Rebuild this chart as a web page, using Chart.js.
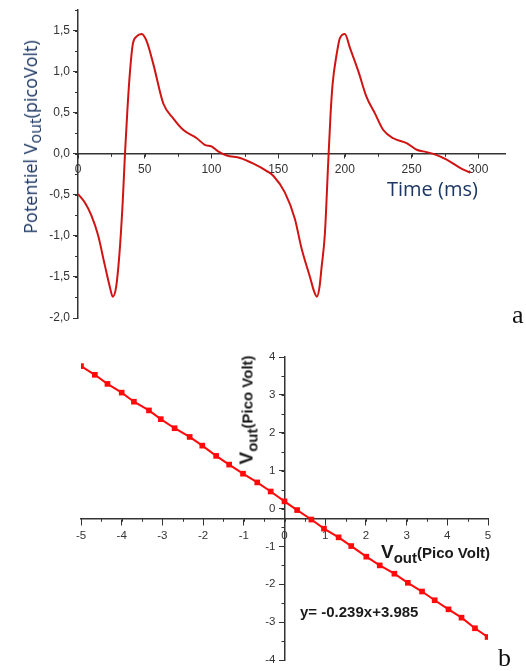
<!DOCTYPE html>
<html>
<head>
<meta charset="utf-8">
<script src="https://cdn.jsdelivr.net/npm/chart.js@4"></script>
<style>
body{margin:0;background:#fff;}
#wrap{position:relative;width:526px;height:671px;background:#fff;overflow:hidden;}
canvas{position:absolute;left:0;}
.lbl{position:absolute;white-space:nowrap;line-height:1;}
.ta{font-family:"Open Sans",Lato,sans-serif;color:#1c3763;}
.tb{font-family:"Liberation Sans",Arial,sans-serif;font-weight:bold;color:#1a1a1a;}
.tb .v{font-size:19px;}
.tb sub{font-size:15px;vertical-align:-5px;}
.tb .p{font-size:15px;}
.ser{font-family:"Liberation Serif","Times New Roman",serif;font-size:26px;color:#111;}
</style>
</head>
<body>
<div id="wrap">
  <canvas id="chartA" width="526" height="335" style="top:0"></canvas>
  <canvas id="chartB" width="526" height="336" style="top:335px"></canvas>
  <div class="lbl ta" style="left:32px;top:137px;font-size:18px;transform:translate(-50%,-50%) rotate(-90deg);">Potentiel V<sub style="font-size:16px;vertical-align:-4px;">out</sub>(picoVolt)</div>
  <div class="lbl ta" style="left:387px;top:179px;font-size:20px;">Time (ms)</div>
  <div class="lbl ser" style="left:512px;top:302px;">a</div>
  <div class="lbl tb" style="left:248px;top:410px;transform:translate(-50%,-50%) rotate(-90deg);"><span class="v">V</span><sub>out</sub><span class="p">(Pico Volt)</span></div>
  <div class="lbl tb" style="left:381px;top:542px;"><span class="v">V</span><sub>out</sub><span class="p">(Pico Volt)</span></div>
  <div class="lbl tb" style="left:300px;top:604px;font-size:15px;">y= -0.239x+3.985</div>
  <div class="lbl ser" style="left:498px;top:645px;">b</div>
</div>
<script>
// (a) potential vs time
const timeA=[0,5,10,15,20,24,26,28.5,31,33.5,35.2,37,39,41,44,47.7,51.5,56.5,64,71.5,79,89,95,100,105,111.5,121.5,131.5,141.5,146.5,155,162.5,167.5,174,177,179,181,182.5,185,187.5,189.3,190.8,193.8,196.3,200,203.8,210,216.3,222.6,228.8,236.3,246.3,253.8,258.8,266.3,276.3,286.3,294];
const potA=[-0.49,-0.59,-0.75,-0.99,-1.35,-1.63,-1.74,-1.63,-1.23,-0.59,0,0.53,1.01,1.33,1.43,1.46,1.37,1.09,0.61,0.43,0.29,0.19,0.11,0.09,0.03,-0.02,-0.05,-0.12,-0.21,-0.27,-0.47,-0.79,-1.15,-1.51,-1.68,-1.74,-1.62,-1.39,-0.98,-0.11,0.49,0.85,1.21,1.41,1.46,1.29,1.01,0.69,0.49,0.29,0.19,0.13,0.05,0.03,0,-0.07,-0.17,-0.23];
const xTicksA=[0,50,100,150,200,250,300];
const yTicksA=[-2,-1.5,-1,-0.5,0,0.5,1,1.5];

// (b) Vout vs Vout
const xB=[-5,-4.66,-4.35,-4,-3.7,-3.33,-3.04,-2.7,-2.33,-2.02,-1.68,-1.36,-1.02,-0.67,-0.34,0,0.31,0.66,0.97,1.33,1.64,2.01,2.34,2.7,3.03,3.38,3.69,4.03,4.35,4.68,4.99];
const yB=[3.76,3.53,3.29,3.06,2.82,2.59,2.36,2.12,1.89,1.66,1.39,1.16,0.92,0.69,0.45,0.19,-0.04,-0.29,-0.53,-0.76,-0.99,-1.27,-1.5,-1.72,-1.96,-2.19,-2.42,-2.66,-2.88,-3.16,-3.39];
const xTicksB=[-5,-4,-3,-2,-1,0,1,2,3,4,5];
const yTicksB=[-4,-3,-2,-1,0,1,2,3,4];

const axisColor='#333';
const fontA={family:'"Liberation Sans", Arial, sans-serif',size:12};
const fontB={family:'"Liberation Sans", Arial, sans-serif',size:11.5};

// short minor ticks, drawn from the chart's own scales
const minorTicks={
    id:'minorTicks',
    afterDraw(chart,args,o){
        const ctx=chart.ctx, xs=chart.scales.x, ys=chart.scales.y;
        const yPix=ys.getPixelForValue(o.xAxisAt), xPix=xs.getPixelForValue(o.yAxisAt);
        ctx.save();
        ctx.strokeStyle=axisColor; ctx.lineWidth=1;
        for(let v=xs.min; v<=xs.max+1e-9; v+=o.xStep){
            const p=Math.round(xs.getPixelForValue(v))+0.5;
            ctx.beginPath(); ctx.moveTo(p,yPix); ctx.lineTo(p,yPix+o.len); ctx.stroke();
        }
        for(let v=ys.min; v<=ys.max+1e-9; v+=o.yStep){
            const p=Math.round(ys.getPixelForValue(v))+0.5;
            ctx.beginPath(); ctx.moveTo(xPix,p); ctx.lineTo(xPix-o.len,p); ctx.stroke();
        }
        ctx.restore();
    }
};

function axis(ticksList,extra){
    return Object.assign({
        type:'linear',
        afterBuildTicks:s=>{s.ticks=ticksList.map(v=>({value:v}));},
        grid:{display:true,drawOnChartArea:false,color:axisColor,tickLength:5,tickWidth:1},
        border:{display:true,color:axisColor,width:1.5}
    },extra);
}

new Chart(document.getElementById('chartA'),{
    type:'line',
    data:{datasets:[{
        data:timeA.map((t,i)=>({x:t,y:potA[i]})),
        borderColor:'#d01414',borderWidth:2,pointRadius:0,
        cubicInterpolationMode:'monotone',fill:false
    }]},
    options:{
        responsive:false,animation:false,
        layout:{padding:{left:0,right:21,top:5,bottom:17}},
        plugins:{legend:{display:false},tooltip:{enabled:false},
            minorTicks:{xStep:25,yStep:0.25,len:3,xAxisAt:0,yAxisAt:0}},
        scales:{
            x:axis(xTicksA,{min:0,max:320,position:{y:0},afterFit:s=>{s.height=0;},
                grid:{display:true,drawOnChartArea:false,color:axisColor,tickLength:4},
                ticks:{color:'#333',font:fontA,autoSkip:false,maxRotation:0,padding:5}}),
            y:axis(yTicksA,{min:-2,max:1.75,position:'left',afterFit:s=>{s.width=78;},
                ticks:{color:'#333',font:fontA,autoSkip:false,padding:3,
                    callback:v=>v.toFixed(1).replace('.',',')}})
        }
    },
    plugins:[minorTicks]
});

new Chart(document.getElementById('chartB'),{
    type:'line',
    data:{datasets:[{
        data:xB.map((x,i)=>({x:x,y:yB[i]})),
        borderColor:'#ff0a0a',backgroundColor:'#ff0a0a',borderWidth:2,
        pointStyle:'rect',pointRadius:4,pointBorderWidth:0,tension:0,fill:false
    }]},
    options:{
        responsive:false,animation:false,
        layout:{padding:{left:81,right:38,top:22,bottom:10}},
        plugins:{legend:{display:false},tooltip:{enabled:false},
            minorTicks:{xStep:0.5,yStep:0.5,len:3,xAxisAt:-0.27,yAxisAt:0}},
        scales:{
            x:axis(xTicksB,{min:-5,max:5,position:{y:-0.27},afterFit:s=>{s.height=0;},
                grid:{display:true,drawOnChartArea:false,color:axisColor,tickLength:6},
                ticks:{color:'#333',font:fontB,autoSkip:false,maxRotation:0,padding:4}}),
            y:axis(yTicksB,{min:-4,max:4,position:'center',afterFit:s=>{s.width=0;},
                ticks:{color:'#333',font:fontB,autoSkip:false,padding:4}})
        }
    },
    plugins:[minorTicks]
});
</script>
</body>
</html>
